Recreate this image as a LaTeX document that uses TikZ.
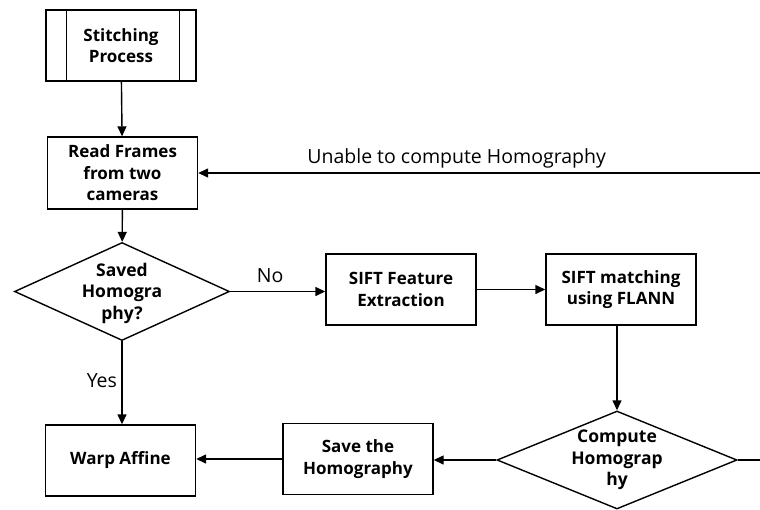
\documentclass[tikz,border=0pt]{standalone}
\usepackage{fontspec}
\setmainfont{Open Sans}
\usetikzlibrary{arrows.meta,shapes.geometric}
\begin{document}
\begin{tikzpicture}[x=1pt,y=-1pt,
  line width=1.4pt,
  box/.style={draw, rectangle, minimum width=150pt, minimum height=71pt, inner sep=0pt,
    align=center, font=\fontsize{17}{21.5}\selectfont\bfseries},
  dia/.style={draw, diamond, inner sep=0pt},
  diatext/.style={align=center, font=\fontsize{17.5}{21.5}\selectfont\bfseries},
  lbl/.style={font=\fontsize{19.5}{23}\selectfont},
  arr/.style={-{Triangle[length=10pt,width=9pt]}}
]
\useasboundingbox (0,0) rectangle (760,509);
\node[box] (sp) at (121,45.5) {Stitching\\Process};
\draw ([xshift=21pt]sp.north west) -- ([xshift=21pt]sp.south west);
\draw ([xshift=-17pt]sp.north east) -- ([xshift=-17pt]sp.south east);
\node[box, minimum height=72pt] (rf) at (122.5,173) {Read Frames\\from two\\cameras};
\node[dia, minimum width=215pt, minimum height=98pt] (sh) at (122,291.5) {};
\node[diatext] at (122,293) {Saved\\Homogra\\phy?};
\node[box] (sf) at (401,289.5) {SIFT Feature\\Extraction};
\node[box] (sm) at (621,289.5) {SIFT matching\\using FLANN};
\node[dia, minimum width=240pt, minimum height=98pt] (ch) at (617,460) {};
\node[diatext] at (617,460) {Compute\\Homograp\\hy};
\node[box] (sv) at (358,459) {Save the\\Homography};
\node[box] (wa) at (120.5,460.5) {Warp Affine};
\coordinate (r1) at (760,460);
\coordinate (r2) at (760,173);
\draw[arr] (sp) -- (rf);
\draw[arr] (rf) -- (sh);
\draw[arr] (sh.east) -- node[lbl, above, pos=0.42, yshift=5pt] {No} (sf.west |- sh.east);
\draw[arr] (sf) -- (sm);
\draw[arr] (sm.south -| ch.north) -- (ch.north);
\draw[arr] (ch.west) -- (sv.east |- ch.west);
\draw[arr] (sv) -- (wa.east |- sv);
\draw[arr] (sh.south) -- node[lbl, left, pos=0.47, xshift=-1pt] {Yes} (wa.north -| sh.south);
\draw (ch.east) -- (r1);
\draw[arr] (r2) -- node[lbl, above, pos=0.54, yshift=1pt] {Unable to compute Homography} (rf.east);
\end{tikzpicture}
\end{document}
